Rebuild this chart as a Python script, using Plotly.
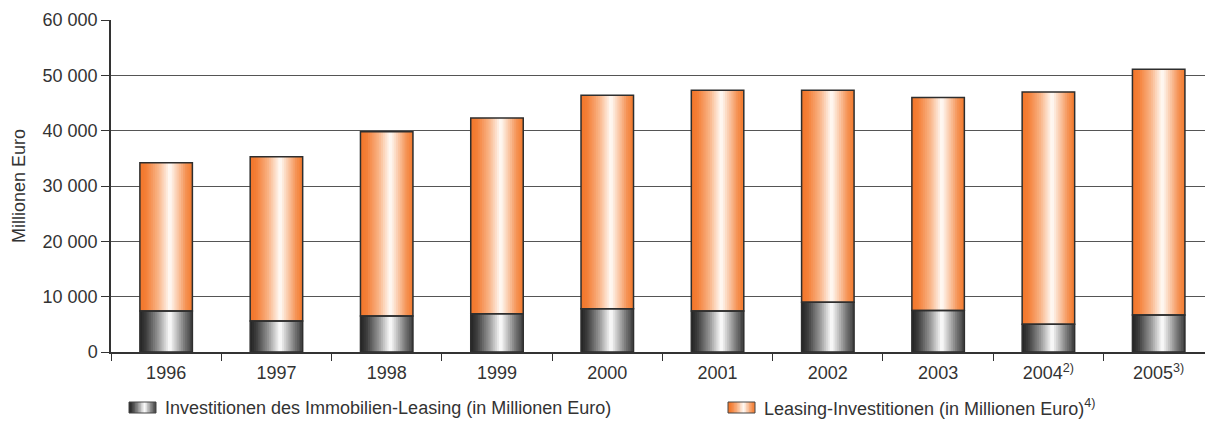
import plotly.graph_objects as go

# ---- data (Millionen Euro) ----
years = ["1996", "1997", "1998", "1999", "2000", "2001", "2002", "2003",
         "2004<sup>2)</sup>", "2005<sup>3)</sup>"]
immobilien = [7400, 5600, 6500, 6900, 7800, 7400, 9000, 7500, 5000, 6700]
leasing_total = [34200, 35300, 39800, 42300, 46400, 47300, 47300, 46000, 47000, 51100]

legend_immo = "Investitionen des Immobilien-Leasing (in Millionen Euro)"
legend_leasing = "Leasing-Investitionen (in Millionen Euro)<sup>4)</sup>"
y_title = "Millionen Euro"

# ---- styling ----
W, H = 1205, 430
ML, MR, MT, MB = 111, 0, 20, 78
FONT = "Liberation Sans, Arial, sans-serif"
TXT = "#333333"
BAR_W = 0.476
N = 28


def lerp(c1, c2, t):
    return tuple(round(a + (b - a) * t) for a, b in zip(c1, c2))


def grad(stops, t):
    for (t0, c0), (t1, c1) in zip(stops, stops[1:]):
        if t <= t1:
            return lerp(c0, c1, (t - t0) / (t1 - t0) if t1 > t0 else 0)
    return stops[-1][1]


GRAY = [(0.0, (35, 35, 35)), (0.12, (62, 62, 62)), (0.35, (150, 150, 150)),
        (0.57, (255, 255, 255)), (0.86, (115, 115, 115)), (1.0, (62, 62, 62))]
ORANGE = [(0.0, (242, 118, 42)), (0.12, (244, 128, 56)), (0.35, (249, 180, 135)),
          (0.57, (255, 252, 248)), (0.88, (245, 145, 82)), (1.0, (243, 124, 48))]


def rgb(c):
    return "rgb(%d,%d,%d)" % c


orange_len = [t - i for t, i in zip(leasing_total, immobilien)]

fig = go.Figure()
sw = BAR_W / N
for stops, yv, base in ((GRAY, immobilien, None), (ORANGE, orange_len, immobilien)):
    for i in range(N):
        t = (i + 0.5) / N
        extra = sw * 0.6 if i < N - 1 else 0
        fig.add_trace(go.Bar(
            x=years, y=yv, base=base,
            width=sw + extra, offset=-BAR_W / 2 + i * sw,
            marker=dict(color=rgb(grad(stops, t)), line=dict(width=0)),
            showlegend=False, hoverinfo="skip"))

# outlines
for yv, base in ((immobilien, None), (orange_len, immobilien)):
    fig.add_trace(go.Bar(
        x=years, y=yv, base=base, width=BAR_W, offset=-BAR_W / 2,
        marker=dict(color="rgba(0,0,0,0)", line=dict(color="#2e2e2e", width=1.5)),
        showlegend=False, hoverinfo="skip"))

# ---- legend (drawn) ----
pw = W - ML - MR
ph = H - MT - MB


def px2paper_x(px):
    return (px - ML) / pw


def px2paper_y(py):
    return (H - MB - py) / ph


shapes = []
annotations = []
for stops, x0, label, tx in ((GRAY, 129, legend_immo, 163), (ORANGE, 728, legend_leasing, 762)):
    sw_px = 27
    n = 18
    for i in range(n):
        t = (i + 0.5) / n
        shapes.append(dict(type="rect", xref="paper", yref="paper",
                           x0=px2paper_x(x0 + i * sw_px / n),
                           x1=px2paper_x(x0 + (i + 1.6) * sw_px / n if i < n - 1 else x0 + sw_px),
                           y0=px2paper_y(413), y1=px2paper_y(402),
                           fillcolor=rgb(grad(stops, t)), line=dict(width=0), layer="above"))
    shapes.append(dict(type="rect", xref="paper", yref="paper",
                       x0=px2paper_x(x0), x1=px2paper_x(x0 + sw_px),
                       y0=px2paper_y(413), y1=px2paper_y(402),
                       line=dict(color="#444", width=1), layer="above"))
    annotations.append(dict(text=label, xref="paper", yref="paper",
                            x=px2paper_x(tx), y=px2paper_y(408),
                            xanchor="left", yanchor="middle", showarrow=False,
                            font=dict(family=FONT, size=18, color=TXT)))

fig.update_layout(
    width=W, height=H, autosize=False,
    margin=dict(l=ML, r=MR, t=MT, b=MB),
    barmode="overlay",
    plot_bgcolor="white", paper_bgcolor="white",
    separators=", ",
    font=dict(family=FONT, size=18, color=TXT),
    shapes=shapes, annotations=annotations,
    xaxis=dict(type="category", categoryorder="array", categoryarray=years,
               range=[-0.5, 9.42], showgrid=False,
               showline=True, linecolor="#333", linewidth=1.5,
               ticks="outside", tickson="boundaries", ticklen=7,
               tickcolor="#333", tickwidth=1.2, ticklabelstandoff=4,
               tickfont=dict(family=FONT, size=18, color=TXT)),
    yaxis=dict(range=[0, 60000], tickvals=[0, 10000, 20000, 30000, 40000, 50000, 60000],
               tickformat=",d", showgrid=True, gridcolor="#555555", gridwidth=1.3,
               showline=True, linecolor="#333", linewidth=1.5,
               ticks="outside", ticklen=8, tickcolor="#333", tickwidth=1.2,
               zeroline=False,
               tickfont=dict(family=FONT, size=18, color=TXT),
               title=dict(text=y_title, standoff=12,
                          font=dict(family=FONT, size=18, color=TXT))),
)

fig.write_html("out.html", config={"displayModeBar": False},
               post_script="document.body.style.margin='0';document.body.style.overflow='hidden';")
